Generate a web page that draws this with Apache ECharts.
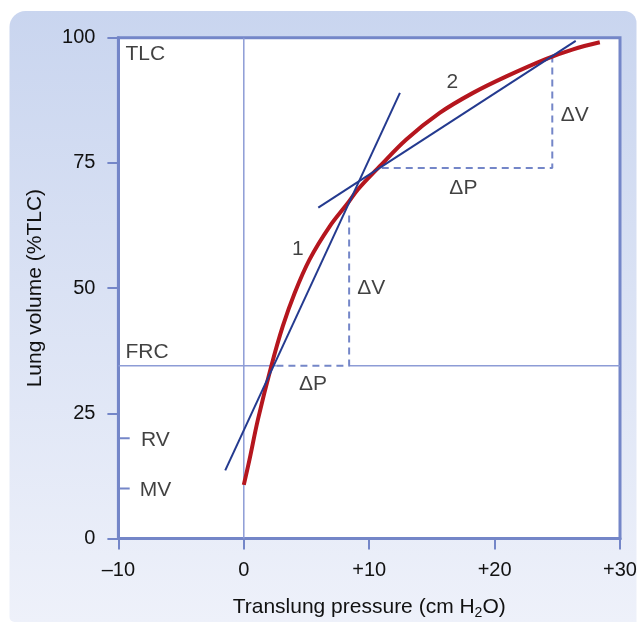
<!DOCTYPE html>
<html>
<head>
<meta charset="utf-8">
<script src="https://cdn.jsdelivr.net/npm/echarts@6/dist/echarts.min.js"></script>
<style>
html,body{margin:0;padding:0;background:#fff;}
#chart{width:637px;height:623px;}
</style>
</head>
<body>
<div id="chart"></div>
<script>
// ---- data ----
const xTickValues = [-10, 0, 10, 20, 30];
const xTickLabels = ['\u201310', '0', '+10', '+20', '+30'];
const yTickValues = [0, 25, 50, 75, 100];
const yTickLabels = ['0', '25', '50', '75', '100'];

// pressure-volume curve (cm H2O, %TLC)
const curveP = [0, 0.45, 1.12, 2.19, 3.11, 4.05, 5.24, 6.84, 8.3, 9.1, 10.83, 12.96, 15.62, 18.28, 20.94, 24.13, 26.26, 28.39];
const curveV = [10.7, 15.7, 23.7, 34.4, 42.4, 49.0, 55.7, 62.3, 67.0, 69.7, 74.3, 79.7, 85.0, 89.0, 92.3, 95.8, 97.7, 99.1];

// tangent lines (endpoints)
const tangent1P = [-1.48, 12.45];
const tangent1V = [13.6, 89.0];
const tangent2P = [5.94, 26.47];
const tangent2V = [66.1, 99.4];

// FRC level
const frcV = 34.5;
const frcLeftP = [-10, 2.6];
const frcRightP = [8.4, 30];

// compliance triangles (dashed)
const delta1P = [2.6, 8.4, 8.4];
const delta1V = [34.5, 34.5, 65.5];
const delta2P = [11.0, 24.6, 24.6];
const delta2V = [74.0, 74.0, 96.0];

// zero pressure line
const zeroLineP = [0, 0];
const zeroLineV = [0, 100];

// RV / MV marks on volume axis
const markNames = ['RV', 'MV'];
const markV = [20, 10];
const markP = [-10, -9.1];

// annotations
const annoText = ['TLC', 'FRC', 'RV', 'MV', '1', '2', '\u0394V', '\u0394P', '\u0394V', '\u0394P'];
const annoP = [-9.44, -9.44, -8.2, -8.3, 4.31, 16.62, 10.17, 5.51, 26.39, 17.51];
const annoV = [96.8, 37.3, 19.7, 9.7, 57.7, 91.2, 50.0, 30.9, 84.6, 70.0];
const annoAlign = ['left', 'left', 'left', 'left', 'center', 'center', 'center', 'center', 'center', 'center'];

// ---- chart ----
const FONT = '"Liberation Sans", Arial, Helvetica, sans-serif';
const AXIS_COLOR = '#7486c8';
const THIN_COLOR = '#8d9cd6';
const RED = '#b5161e';
const BLUE = '#243a8f';
const TEXT = '#111111';

function pairs(xs, ys) { return xs.map((x, i) => [x, ys[i]]); }

const series = [];
series.push({ type: 'line', data: pairs(zeroLineP, zeroLineV), symbol: 'none', silent: true,
  lineStyle: { color: THIN_COLOR, width: 1.5 }, z: 2 });
series.push({ type: 'line', data: pairs(frcLeftP, [frcV, frcV]), symbol: 'none', silent: true,
  lineStyle: { color: THIN_COLOR, width: 1.5 }, z: 2 });
series.push({ type: 'line', data: pairs(frcRightP, [frcV, frcV]), symbol: 'none', silent: true,
  lineStyle: { color: THIN_COLOR, width: 1.5 }, z: 2 });
series.push({ type: 'line', data: pairs(delta1P, delta1V), symbol: 'none', silent: true,
  lineStyle: { color: AXIS_COLOR, width: 2, type: [7, 5] }, z: 2 });
series.push({ type: 'line', data: pairs(delta2P, delta2V), symbol: 'none', silent: true,
  lineStyle: { color: AXIS_COLOR, width: 2, type: [7, 5] }, z: 2 });
markV.forEach(v => {
  series.push({ type: 'line', data: pairs(markP, [v, v]), symbol: 'none', silent: true,
    lineStyle: { color: AXIS_COLOR, width: 2 }, z: 2 });
});
series.push({ type: 'line', data: pairs(curveP, curveV), symbol: 'none', smooth: 0.35, silent: true,
  lineStyle: { color: RED, width: 4, cap: 'butt' }, z: 3 });
series.push({ type: 'line', data: pairs(tangent1P, tangent1V), symbol: 'none', silent: true,
  lineStyle: { color: BLUE, width: 2 }, z: 4 });
series.push({ type: 'line', data: pairs(tangent2P, tangent2V), symbol: 'none', silent: true,
  lineStyle: { color: BLUE, width: 2 }, z: 4 });
series.push({ type: 'scatter', symbolSize: 0, silent: true, z: 5,
  data: annoText.map((t, i) => ({ name: t, value: [annoP[i], annoV[i]],
    label: { show: true, position: 'inside', formatter: t, align: annoAlign[i], verticalAlign: 'middle',
      color: TEXT, fontSize: 21, fontFamily: FONT } })) });

const chart = echarts.init(document.getElementById('chart'), null, { renderer: 'canvas' });
chart.setOption({
  animation: false,
  backgroundColor: '#ffffff',
  graphic: [{
    type: 'rect', z: -10, silent: true,
    shape: { x: 9.5, y: 11, width: 627, height: 611, r: [16, 12, 0, 5] },
    style: { fill: new echarts.graphic.LinearGradient(0, 0, 0, 1, [
      { offset: 0, color: '#c9d5ef' }, { offset: 1, color: '#eef1fa' }]) }
  }],
  grid: { left: 118.4, top: 37.8, right: 17, bottom: 84.5, show: true,
    containLabel: false, outerBoundsMode: 'none',
    backgroundColor: '#ffffff', borderColor: AXIS_COLOR, borderWidth: 3 },
  xAxis: {
    type: 'value', min: -10, max: 30, interval: 10,
    name: 'Translung pressure (cm H{sub|2}O)', nameLocation: 'middle', nameGap: 56,
    nameTextStyle: { fontSize: 21, color: TEXT, fontFamily: FONT,
      rich: { sub: { fontSize: 14, fontFamily: FONT, color: TEXT, padding: [12, 0, 0, 0] } } },
    axisLine: { show: true, onZero: false, lineStyle: { color: AXIS_COLOR, width: 3 } },
    axisTick: { show: true, length: 11, lineStyle: { color: AXIS_COLOR, width: 2 } },
    axisLabel: { margin: 22, fontSize: 20, color: TEXT, fontFamily: FONT,
      formatter: v => xTickLabels[xTickValues.indexOf(v)] },
    splitLine: { show: false }
  },
  yAxis: {
    type: 'value', min: 0, max: 100, interval: 25,
    name: 'Lung volume (%TLC)', nameLocation: 'middle', nameGap: 73, nameRotate: 90,
    nameTextStyle: { fontSize: 21, color: TEXT, fontFamily: FONT },
    axisLine: { show: true, onZero: false, lineStyle: { color: AXIS_COLOR, width: 3 } },
    axisTick: { show: true, length: 11, lineStyle: { color: AXIS_COLOR, width: 2 } },
    axisLabel: { margin: 23, fontSize: 20, color: TEXT, fontFamily: FONT,
      formatter: v => yTickLabels[yTickValues.indexOf(v)] },
    splitLine: { show: false }
  },
  series: series
});
</script>
</body>
</html>
